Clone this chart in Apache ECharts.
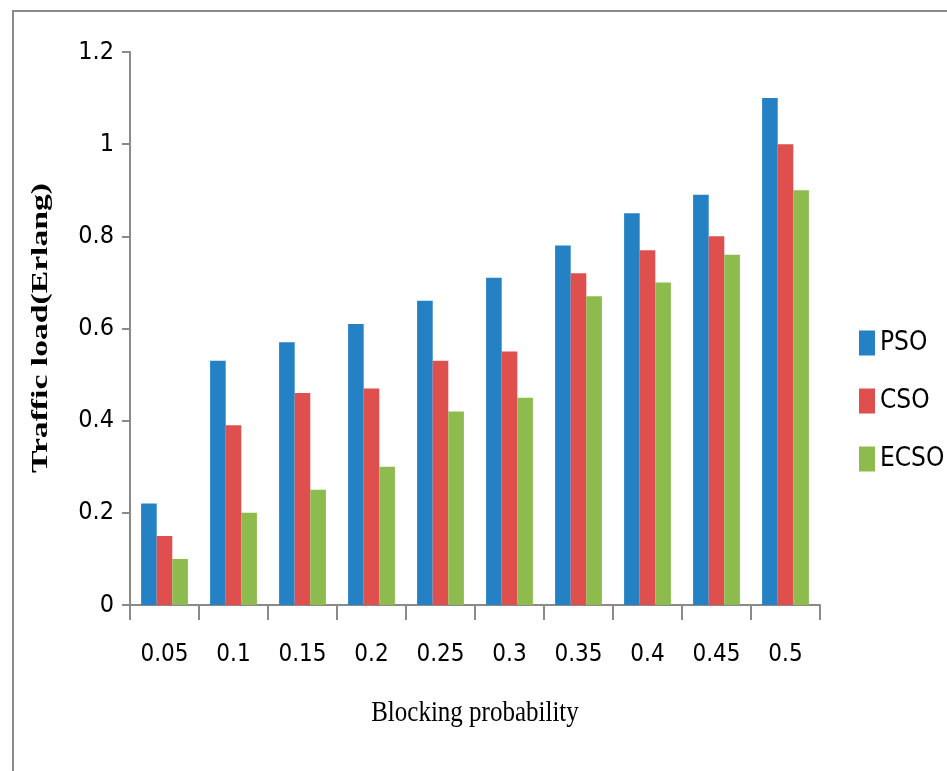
<!DOCTYPE html>
<html>
<head>
<meta charset="utf-8">
<script src="https://cdn.jsdelivr.net/npm/echarts@6/dist/echarts.min.js"></script>
<style>
  html, body { margin: 0; padding: 0; background: #fff; }
  #chart { width: 947px; height: 771px; }
</style>
</head>
<body>
<div id="chart"></div>
<script>
// Blocking probability categories on the x axis
const categories = ['0.05', '0.1', '0.15', '0.2', '0.25', '0.3', '0.35', '0.4', '0.45', '0.5'];

// Traffic load (Erlang) for each optimiser
const psoValues  = [0.22, 0.53, 0.57, 0.61, 0.66, 0.71, 0.78, 0.85, 0.89, 1.10];
const csoValues  = [0.15, 0.39, 0.46, 0.47, 0.53, 0.55, 0.72, 0.77, 0.80, 1.00];
const ecsoValues = [0.10, 0.20, 0.25, 0.30, 0.42, 0.45, 0.67, 0.70, 0.76, 0.90];

const seriesNames = ['PSO', 'CSO', 'ECSO'];
const seriesColors = ['#2381C4', '#DE4F4D', '#8DBB4E'];

const yTitle = 'Traffic load(Erlang)';
const xTitle = 'Blocking probability';

const narrowFont = '"Liberation Sans Narrow", "DejaVu Sans Condensed", "Liberation Sans", sans-serif';
const serifFont = '"Liberation Serif", "DejaVu Serif", serif';

const chart = echarts.init(document.getElementById('chart'), null, { renderer: 'canvas' });

const seriesData = [psoValues, csoValues, ecsoValues];

chart.setOption({
  animation: false,
  backgroundColor: '#ffffff',
  graphic: [
    {
      // outer frame (left and top edges)
      type: 'polyline',
      shape: { points: [[13, 771], [13, 11], [947, 11]] },
      style: { stroke: '#8a8a8a', lineWidth: 2, fill: null },
      silent: true
    },
    {
      // vertical axis title, stretched along its length
      type: 'text',
      x: 41,
      y: 328,
      rotation: Math.PI / 2,
      scaleX: 1.53,
      scaleY: 1.05,
      style: {
        text: yTitle,
        fontFamily: serifFont,
        fontSize: 22,
        fontWeight: 'bold',
        fill: '#000',
        align: 'center',
        verticalAlign: 'middle'
      },
      silent: true
    },
    {
      // horizontal axis title, slightly tall
      type: 'text',
      x: 475,
      y: 713,
      scaleX: 1.0,
      scaleY: 1.18,
      style: {
        text: xTitle,
        fontFamily: serifFont,
        fontSize: 25,
        fill: '#000',
        align: 'center',
        verticalAlign: 'middle'
      },
      silent: true
    }
  ],
  grid: { left: 130, right: 127, top: 52, bottom: 166, containLabel: false },
  legend: {
    orient: 'vertical',
    left: 854,
    top: 325,
    icon: 'rect',
    itemWidth: 16,
    itemHeight: 25,
    itemGap: 32,
    textStyle: { fontFamily: narrowFont, fontSize: 26, color: '#000' },
    data: seriesNames
  },
  xAxis: {
    type: 'category',
    data: categories,
    axisLine: { lineStyle: { color: '#8a8a8a', width: 2 } },
    axisTick: { show: true, length: 15, alignWithLabel: false, lineStyle: { color: '#8a8a8a', width: 2 } },
    axisLabel: { fontFamily: narrowFont, fontSize: 24, color: '#000', margin: 38 },
    splitLine: { show: false }
  },
  yAxis: {
    type: 'value',
    min: 0,
    max: 1.2,
    interval: 0.2,
    axisLine: { show: true, lineStyle: { color: '#8a8a8a', width: 2 } },
    axisTick: { show: true, length: 8, inside: false, lineStyle: { color: '#8a8a8a', width: 2 } },
    axisLabel: {
      fontFamily: narrowFont, fontSize: 25, color: '#000', margin: 16,
      formatter: v => String(Math.round(v * 10) / 10)
    },
    splitLine: { show: false }
  },
  series: seriesNames.map((name, i) => ({
    name: name,
    type: 'bar',
    data: seriesData[i],
    barWidth: 15.6,
    barGap: '0%',
    itemStyle: { color: seriesColors[i] }
  }))
});
</script>
</body>
</html>
